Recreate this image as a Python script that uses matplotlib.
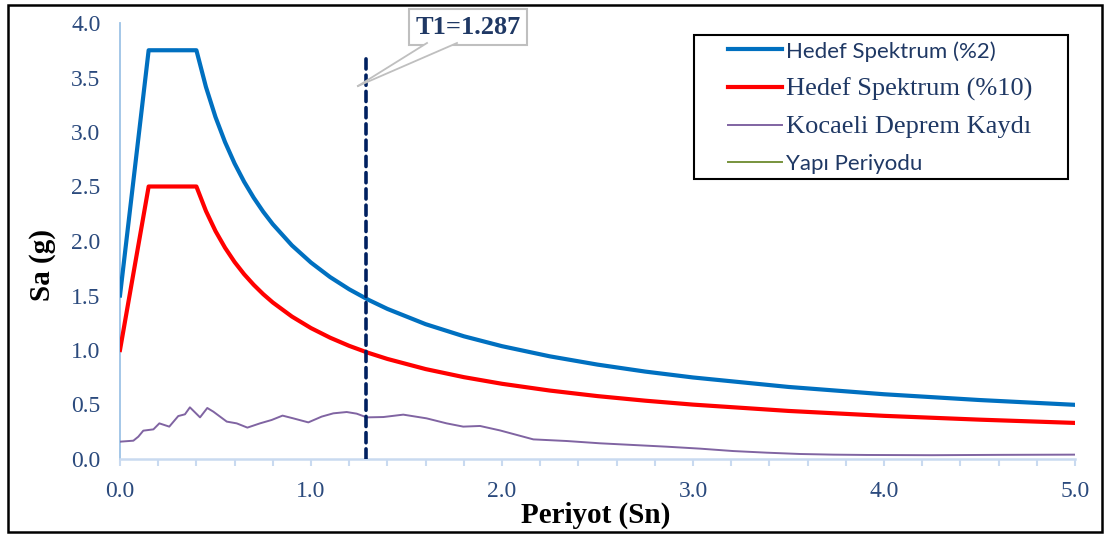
import matplotlib
matplotlib.use("Agg")
import matplotlib.pyplot as plt
from matplotlib.lines import Line2D
from matplotlib.patches import Rectangle, Polygon
from matplotlib.ticker import MultipleLocator

# Design spectra (periods in s, spectral acceleration in g)
periods_spec = [0.0, 0.15, 0.40, 0.45, 0.50, 0.55, 0.60, 0.65, 0.70, 0.75, 0.80,
                0.90, 1.00, 1.10, 1.20, 1.30, 1.40, 1.60, 1.80, 2.00, 2.25,
                2.50, 2.75, 3.00, 3.50, 4.00, 4.50, 5.00]
sa_2pct = [1.50, 3.75, 3.75, 3.413, 3.137, 2.907, 2.711, 2.543, 2.397, 2.268, 2.154,
           1.960, 1.802, 1.669, 1.557, 1.461, 1.377, 1.237, 1.126, 1.035, 0.942,
           0.866, 0.802, 0.748, 0.661, 0.594, 0.541, 0.497]
sa_10pct = [1.00, 2.50, 2.50, 2.275, 2.091, 1.938, 1.807, 1.695, 1.598, 1.512, 1.436,
            1.307, 1.201, 1.113, 1.038, 0.974, 0.918, 0.825, 0.751, 0.690, 0.628,
            0.577, 0.535, 0.499, 0.441, 0.396, 0.361, 0.331]

# Kocaeli earthquake record response spectrum
periods_rec = [0.0, 0.07, 0.096, 0.122, 0.175, 0.206, 0.258, 0.305, 0.34, 0.366,
               0.419, 0.457, 0.489, 0.559, 0.611, 0.667, 0.733, 0.794, 0.851,
               0.907, 0.986, 1.056, 1.117, 1.187, 1.239, 1.292, 1.379, 1.483,
               1.605, 1.71, 1.797, 1.885, 1.99, 2.164, 2.339, 2.513, 2.862,
               3.037, 3.21, 3.386, 3.56, 3.735, 3.91, 4.25, 4.607, 5.0]
sa_rec = [0.159, 0.168, 0.205, 0.26, 0.272, 0.327, 0.297, 0.394, 0.41, 0.474,
          0.382, 0.468, 0.434, 0.343, 0.327, 0.288, 0.327, 0.358, 0.398,
          0.373, 0.336, 0.389, 0.419, 0.431, 0.416, 0.382, 0.385, 0.407,
          0.373, 0.327, 0.297, 0.303, 0.262, 0.18, 0.165, 0.144, 0.113,
          0.095, 0.073, 0.058, 0.046, 0.040, 0.037, 0.035, 0.038, 0.040]

# Structure period and the top of its marker line
T1 = 1.287
T1_line_top = 3.72

x_ticks = [0.0, 1.0, 2.0, 3.0, 4.0, 5.0]
y_ticks = [0.0, 0.5, 1.0, 1.5, 2.0, 2.5, 3.0, 3.5, 4.0]

legend_labels = ["Hedef Spektrum (%2)", "Hedef Spektrum (%10)",
                 "Kocaeli Deprem Kaydı", "Yapı Periyodu"]

W, H = 1105, 536
fig = plt.figure(figsize=(W / 100, H / 100), dpi=100)
ax = fig.add_axes([120 / W, 1 - 459 / H, (1075 - 120) / W, (459 - 23) / H])
to_fig = lambda p: (p[0] / W, 1 - p[1] / H)

serif = "Liberation Serif"
tick_color = "#2b4a7d"
text_navy = "#1f3864"

l_blue, = ax.plot(periods_spec, sa_2pct, color="#0070c0", lw=3.0,
                  solid_joinstyle="round", zorder=4)
l_red, = ax.plot(periods_spec, sa_10pct, color="#ff0000", lw=3.0,
                 solid_joinstyle="round", zorder=4)
l_purp, = ax.plot(periods_rec, sa_rec, color="#8064a2", lw=1.4, zorder=4)
ax.plot([T1, T1], [0, T1_line_top], color="#002060", lw=2.6,
        linestyle=(0, (2.8, 1.7)), dash_capstyle="round", zorder=5)
l_green = Line2D([], [], color="#77933c", lw=1.4)

ax.set_xlim(0, 5.0)
ax.set_ylim(0, 4.0)
ax.set_xticks(x_ticks)
ax.set_xticklabels([f"{v:.1f}" for v in x_ticks])
ax.xaxis.set_minor_locator(MultipleLocator(0.2))
ax.set_yticks(y_ticks)
ax.set_yticklabels([f"{v:.1f}" for v in y_ticks])

for s in ["top", "right"]:
    ax.spines[s].set_visible(False)
ax.spines["left"].set_color("#9dc3e6")
ax.spines["left"].set_linewidth(1.3)
ax.spines["bottom"].set_color("#c9daf0")
ax.spines["bottom"].set_linewidth(1.8)

ax.tick_params(axis="x", which="both", direction="out", length=5, width=1.5,
               color="#c9daf0", labelsize=17, labelcolor=tick_color, pad=11)
ax.tick_params(axis="y", length=0, labelsize=17, labelcolor=tick_color, pad=14)
for lab in ax.get_xticklabels() + ax.get_yticklabels():
    lab.set_fontfamily(serif)

fig.text(596 / W, 1 - 515 / H, "Periyot (Sn)", family=serif, weight="bold",
         fontsize=21, ha="center", va="center", color="black")
fig.text(42 / W, 1 - 265 / H, "Sa (g)", family=serif, weight="bold",
         fontsize=21, ha="center", va="center", rotation=90, color="black")

# Callout box for the structure period
fig.text(468 / W, 1 - 27 / H, "T1=1.287", family=serif, weight="bold",
         fontsize=19, color=text_navy, ha="center", va="center",
         bbox=dict(boxstyle="square,pad=0.25", fc="white", ec="#bfbfbf", lw=1.5),
         zorder=6)
# Callout tail from the box bottom down to the marker line
tip = (358, 86)
base_l, base_r = (427, 43), (457, 43)
fig.patches.append(Polygon([to_fig(base_l), to_fig(tip), to_fig(base_r)],
                           closed=True, transform=fig.transFigure,
                           fc="white", ec="none", zorder=7))
for b in (base_l, base_r):
    fig.lines.append(Line2D([to_fig(b)[0], to_fig(tip)[0]],
                            [to_fig(b)[1], to_fig(tip)[1]],
                            transform=fig.transFigure, color="#bfbfbf",
                            lw=1.3, zorder=8))

# Legend entries (frame drawn separately below)
leg = ax.legend([l_blue, l_red, l_purp, l_green], legend_labels,
                loc="upper left", bbox_to_anchor=to_fig((728, 41)),
                bbox_transform=fig.transFigure, borderaxespad=0,
                frameon=False, handlelength=2.3,
                handletextpad=0.17, labelspacing=0.66, borderpad=0,
                prop={"size": 17})
fams = ["Lato", serif, serif, "Lato"]
sizes = [16, 19, 19, 16]
for t, f, s in zip(leg.get_texts(), fams, sizes):
    t.set_fontfamily(f)
    t.set_fontsize(s)
    t.set_color(text_navy)
leg.set_zorder(7)
x0, y0 = to_fig((694, 179))
fig.patches.append(Rectangle((x0, y0), (1068 - 694) / W, (179 - 35) / H,
                             transform=fig.transFigure, fill=False,
                             ec="black", lw=1.5, zorder=9))

# Outer frame around the whole figure
fig.patches.append(Rectangle((8 / W, 1 - 532 / H), (1102 - 8) / W, (532 - 5) / H,
                             transform=fig.transFigure, fill=False,
                             ec="black", lw=1.8))

fig.savefig("out.png", dpi=100, facecolor="white")
